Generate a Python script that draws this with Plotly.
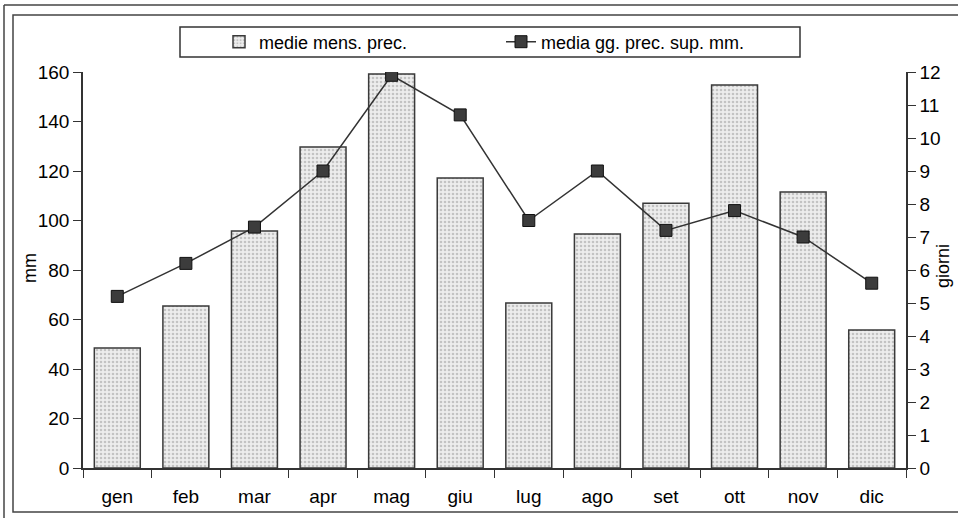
import plotly.graph_objects as go

months = ["gen", "feb", "mar", "apr", "mag", "giu", "lug", "ago", "set", "ott", "nov", "dic"]
prec_mm = [48.5, 65.5, 95.8, 129.7, 159.2, 117.2, 66.7, 94.5, 107.0, 154.7, 111.5, 55.8]
giorni = [5.2, 6.2, 7.3, 9.0, 11.9, 10.7, 7.5, 9.0, 7.2, 7.8, 7.0, 5.6]
left_ticks = [0, 20, 40, 60, 80, 100, 120, 140, 160]
right_ticks = list(range(0, 13))

FONT = "Liberation Sans, Arial, sans-serif"
INK = "#000000"

fig = go.Figure()
fig.add_trace(go.Bar(
    x=months, y=prec_mm, name="medie mens. prec.",
    marker=dict(
        color="#ececec",
        line=dict(color="#3a3a3a", width=1.5),
        pattern=dict(shape=".", fgcolor="#9a9a9a", bgcolor="#ededed", size=4, solidity=0.35),
    ),
    yaxis="y",
))
fig.add_trace(go.Scatter(
    x=months, y=giorni, name="media gg. prec. sup. mm.",
    mode="lines+markers",
    line=dict(color="#333333", width=1.5),
    marker=dict(symbol="square", size=12, color="#3c3c3c", line=dict(color="#111111", width=1)),
    yaxis="y2",
))

# plot area in px: x 83..906, y 72..468
def px_x(p):
    return (p - 83) / 823.0

def px_y(p):
    return (468 - p) / 396.0

shapes = [
    dict(type="rect", xref="paper", yref="paper",
         x0=px_x(13), x1=px_x(965), y0=px_y(512), y1=px_y(15),
         line=dict(color="#444444", width=1.5)),
    dict(type="line", xref="paper", yref="paper",
         x0=px_x(4), x1=px_x(4), y0=px_y(525), y1=px_y(5),
         line=dict(color="#444444", width=1.5)),
    dict(type="line", xref="paper", yref="paper",
         x0=px_x(4), x1=px_x(965), y0=px_y(5), y1=px_y(5),
         line=dict(color="#444444", width=1.5)),
    # legend frame
    dict(type="rect", xref="paper", yref="paper",
         x0=px_x(180), x1=px_x(800), y0=px_y(57), y1=px_y(27),
         line=dict(color="#333333", width=1.5), fillcolor="white", layer="below"),
]

annotations = [
    dict(text="mm", xref="paper", yref="paper", x=px_x(30), y=px_y(268),
         xanchor="center", yanchor="middle", textangle=-90, showarrow=False,
         font=dict(family=FONT, size=18, color=INK)),
    dict(text="giorni", xref="paper", yref="paper", x=px_x(943), y=px_y(266),
         xanchor="center", yanchor="middle", textangle=-90, showarrow=False,
         font=dict(family=FONT, size=18, color=INK)),
]

fig.update_layout(
    width=958, height=518,
    margin=dict(l=83, r=52, t=72, b=50, autoexpand=False),
    paper_bgcolor="white", plot_bgcolor="white",
    font=dict(family=FONT, size=19, color=INK),
    bargap=0.33,
    showlegend=True,
    legend=dict(
        orientation="h", x=px_x(219), xanchor="left", y=px_y(42), yanchor="middle",
        borderwidth=0, bgcolor="rgba(0,0,0,0)",
        font=dict(family=FONT, size=18, color=INK),
        entrywidth=237, entrywidthmode="pixels",
        traceorder="normal",
    ),
    xaxis=dict(
        range=[-0.5, 11.5],
        showline=True, linecolor="#333333", linewidth=1.5,
        ticks="outside", tickson="boundaries", ticklen=8, tickcolor="#333333",
        showgrid=False, tickfont=dict(size=19), ticklabelstandoff=10,
    ),
    yaxis=dict(
        range=[0, 160], tickvals=left_ticks,
        showline=True, linecolor="#333333", linewidth=1.5,
        ticks="outside", ticklen=8, tickcolor="#333333",
        showgrid=False, zeroline=False,
        tickfont=dict(size=19),
    ),
    yaxis2=dict(
        range=[0, 12], tickvals=right_ticks, overlaying="y", side="right",
        showline=True, linecolor="#333333", linewidth=1.5,
        ticks="outside", ticklen=8, tickcolor="#333333",
        showgrid=False, zeroline=False,
        tickfont=dict(size=19),
    ),
    shapes=shapes,
    annotations=annotations,
)

fig.write_html("out.html", config={"displayModeBar": False},
               post_script="document.body.style.margin='0';")
